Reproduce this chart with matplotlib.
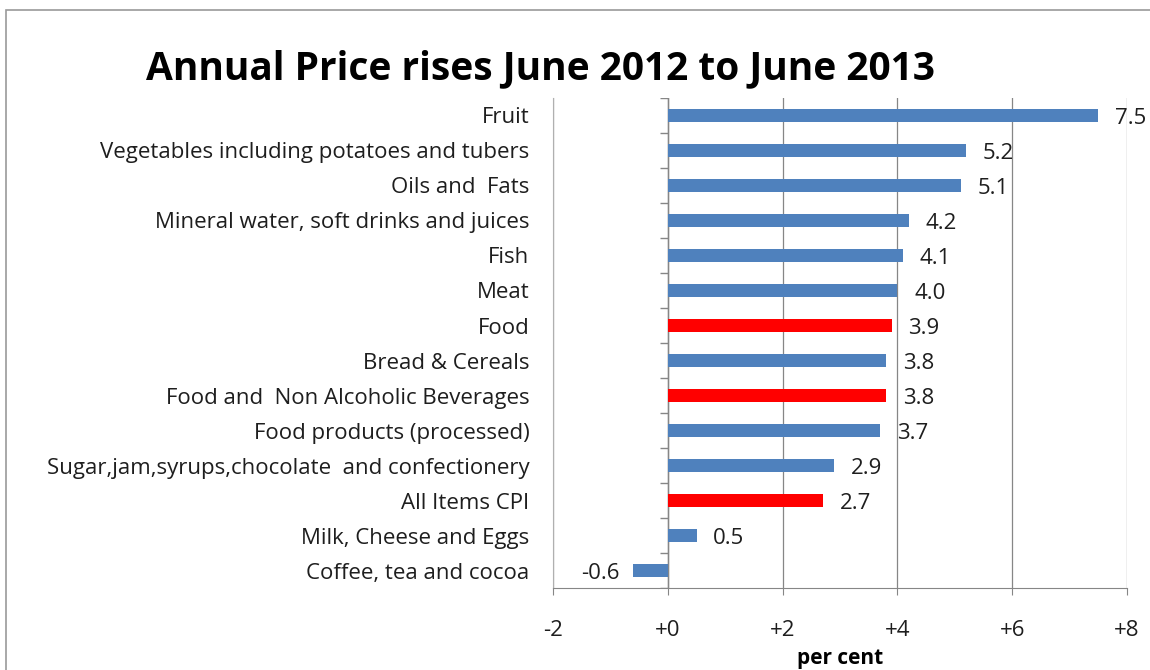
import numpy as np
import matplotlib.pyplot as plt
from matplotlib.patches import Rectangle

plt.rcParams['font.family'] = ['Open Sans', 'DejaVu Sans']

categories = ["Fruit", "Vegetables including potatoes and tubers", "Oils and  Fats",
              "Mineral water, soft drinks and juices", "Fish", "Meat", "Food",
              "Bread & Cereals", "Food and  Non Alcoholic Beverages",
              "Food products (processed)",
              "Sugar,jam,syrups,chocolate  and confectionery", "All Items CPI",
              "Milk, Cheese and Eggs", "Coffee, tea and cocoa"]
values = [7.5, 5.2, 5.1, 4.2, 4.1, 4.0, 3.9, 3.8, 3.8, 3.7, 2.9, 2.7, 0.5, -0.6]
highlight = ["Food", "Food and  Non Alcoholic Beverages", "All Items CPI"]
xticks = [-2, 0, 2, 4, 6, 8]
xlabels = ["-2", "+0", "+2", "+4", "+6", "+8"]

blue = "#4F81BD"
red = "#FF0000"
grey = "#868686"
txt = "#1e1e1e"
fs = 16

fig = plt.figure(figsize=(11.5, 6.7), dpi=100)
ax = fig.add_axes([0.481, 0.122, 0.499, 0.732])

y = np.arange(len(categories))
colors = [red if c in highlight else blue for c in categories]
ax.barh(y, values, height=0.38, color=colors, zorder=3)

ax.set_ylim(len(categories) - 0.5, -0.5)
ax.set_xlim(-2, 8)
ax.set_yticks(y)
ax.set_yticklabels(categories, fontsize=fs, color=txt)
ax.tick_params(axis='y', length=0, pad=17)
ax.set_xticks(xticks)
ax.set_xticklabels(xlabels, fontsize=fs, color=txt)
ax.tick_params(axis='x', length=5, color=grey, pad=18)
ax.set_xlabel("per cent", fontsize=15, fontweight='bold', labelpad=5)

for s in ['top', 'right']:
    ax.spines[s].set_visible(False)
ax.spines['left'].set_color("#b0b0b0")
ax.spines['bottom'].set_color(grey)
ax.grid(axis='x', color=grey, linewidth=0.9, zorder=0)

# zero axis with category boundary ticks
ax.axvline(0, color=grey, linewidth=1, zorder=2)
bounds = np.arange(len(categories) + 1) - 0.5
ax.hlines(bounds, -0.14, 0, color=grey, linewidth=1, zorder=2)

for yi, v in zip(y, values):
    if v >= 0:
        ax.annotate(f"{v:.1f}", (v, yi), xytext=(12, -2), textcoords='offset points',
                    ha='left', va='center', fontsize=fs, color=txt)
    else:
        ax.annotate(f"{v:.1f}", (v, yi), xytext=(-10, -2), textcoords='offset points',
                    ha='right', va='center', fontsize=fs, color=txt)

fig.text(0.4696, 0.898, "Annual Price rises June 2012 to June 2013", ha='center', va='center',
         fontsize=28, fontweight='bold', color="black")

fig.patches.append(Rectangle((6 / 1150, -0.1), 1.2, 1.1 - 10 / 670, transform=fig.transFigure,
                             fill=False, edgecolor="#9a9a9a", linewidth=1.2))

fig.savefig("out.png", dpi=100)
